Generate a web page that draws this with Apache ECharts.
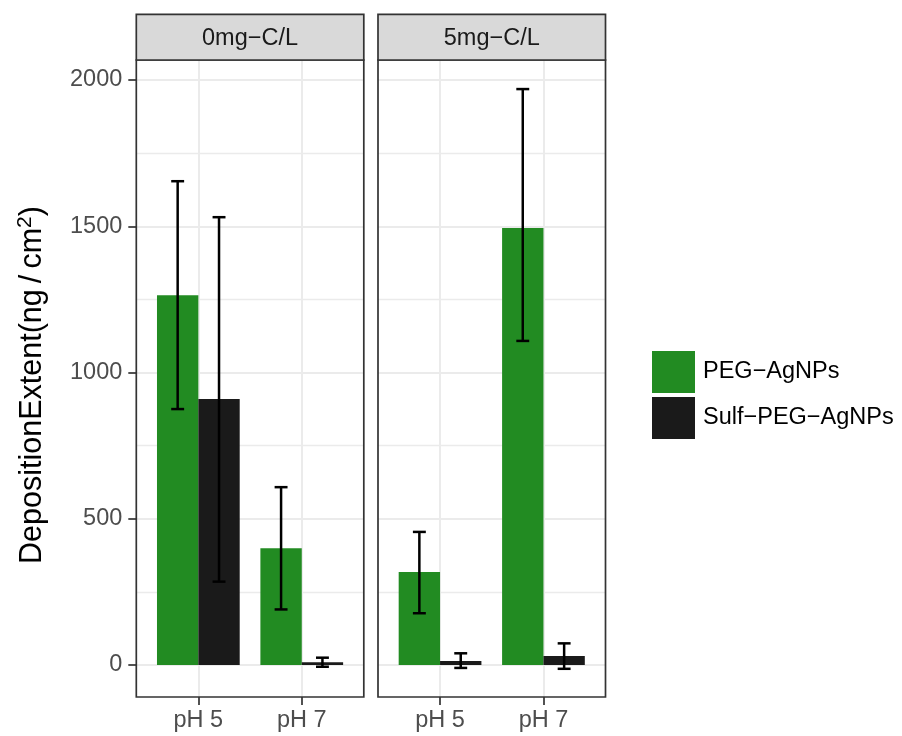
<!DOCTYPE html>
<html>
<head>
<meta charset="utf-8">
<script src="https://cdn.jsdelivr.net/npm/echarts@6/dist/echarts.min.js"></script>
<style>html,body{margin:0;padding:0;background:#fff}#c{width:902px;height:736px}</style>
</head>
<body>
<div id="c"></div>
<script>
// ---- data ----
const categories = ['pH 5', 'pH 7'];
const panels = ['0mg\u2212C/L', '5mg\u2212C/L'];
const seriesNames = ['PEG\u2212AgNPs', 'Sulf\u2212PEG\u2212AgNPs'];
const pegMean = [[1264, 399], [318, 1494]];
const pegLow  = [[875, 190], [177, 1108]];
const pegHigh = [[1654, 608], [455, 1969]];
const sulfMean = [[909, 9], [14, 31]];
const sulfLow  = [[285, -6], [-10, -13]];
const sulfHigh = [[1531, 25], [40, 74]];
const yTicks = [0, 500, 1000, 1500, 2000];

// ---- layout / style ----
const FONT = "'Liberation Sans', Arial, Helvetica, sans-serif";
const colors = ['#228B22', '#1A1A1A'];
const gridDefs = [
  {left: 136.3, top: 60, width: 227.5, height: 637},
  {left: 378, top: 60, width: 227.5, height: 637}
];
const stripTop = 14.3, stripH = 45.7;
const border = '#333333', bw = 1.7;
const yMin = -109.4, yMax = 2068.4;

const chart = echarts.init(document.getElementById('c'), null, {renderer: 'canvas'});

function barRender(offset) {
  return function (params, api) {
    const x = api.value(0) + offset, v = api.value(1);
    const a = api.coord([x - 0.2, 0]);
    const b = api.coord([x + 0.2, v]);
    return {
      type: 'rect',
      shape: {x: a[0], y: Math.min(a[1], b[1]), width: b[0] - a[0], height: Math.abs(a[1] - b[1])},
      style: {fill: api.visual('color')}
    };
  };
}
function errRender(offset) {
  return function (params, api) {
    const x = api.value(0) + offset, lo = api.value(1), hi = api.value(2);
    const t = api.coord([x, hi]), b = api.coord([x, lo]);
    const tl = api.coord([x - 0.0625, hi]), tr = api.coord([x + 0.0625, hi]);
    const bl = api.coord([x - 0.0625, lo]), br = api.coord([x + 0.0625, lo]);
    const st = {stroke: '#000', lineWidth: 2.5};
    return {type: 'group', children: [
      {type: 'line', shape: {x1: t[0], y1: t[1], x2: b[0], y2: b[1]}, style: st},
      {type: 'line', shape: {x1: tl[0], y1: tl[1], x2: tr[0], y2: tr[1]}, style: st},
      {type: 'line', shape: {x1: bl[0], y1: bl[1], x2: br[0], y2: br[1]}, style: st}
    ]};
  };
}

const xAxes = gridDefs.map((g, i) => ({
  type: 'value', gridIndex: i, min: 0.4, max: 2.6, position: 'bottom',
  axisLine: {show: false, onZero: false},
  axisTick: {show: true, customValues: categories.map((c, k) => k + 1), length: 8, lineStyle: {color: border, width: bw}},
  axisLabel: {customValues: categories.map((c, k) => k + 1), formatter: v => categories[Math.round(v) - 1],
    color: '#4D4D4D', fontSize: 23.5, fontFamily: FONT, margin: 12},
  splitLine: {show: true, lineStyle: {color: '#EBEBEB', width: 2}}
}));
const yAxes = gridDefs.map((g, i) => ({
  type: 'value', gridIndex: i, min: yMin, max: yMax, splitNumber: 5, position: 'left',
  axisLine: {show: false, onZero: false},
  axisTick: {show: i === 0, customValues: yTicks, length: 8, lineStyle: {color: border, width: bw}},
  axisLabel: {show: i === 0, customValues: yTicks, formatter: v => String(v),
    color: '#4D4D4D', fontSize: 23.5, fontFamily: FONT, margin: 14},
  splitLine: {show: true, lineStyle: {color: '#EBEBEB', width: 2}},
  minorTick: {show: false, splitNumber: 2},
  minorSplitLine: {show: true, lineStyle: {color: '#EBEBEB', width: 1.3}}
}));

const series = [];
panels.forEach((p, i) => {
  series.push({
    name: seriesNames[0], type: 'custom', xAxisIndex: i, yAxisIndex: i, z: 3,
    itemStyle: {color: colors[0]}, renderItem: barRender(-0.2), encode: {x: 0, y: 1},
    data: categories.map((c, k) => [k + 1, pegMean[i][k]])
  });
  series.push({
    name: seriesNames[1], type: 'custom', xAxisIndex: i, yAxisIndex: i, z: 3,
    itemStyle: {color: colors[1]}, renderItem: barRender(0.2), encode: {x: 0, y: 1},
    data: categories.map((c, k) => [k + 1, sulfMean[i][k]])
  });
  series.push({
    name: 'errPEG' + i, type: 'custom', xAxisIndex: i, yAxisIndex: i, z: 4,
    renderItem: errRender(-0.2), encode: {x: 0, y: [1, 2]},
    data: categories.map((c, k) => [k + 1, pegLow[i][k], pegHigh[i][k]])
  });
  series.push({
    name: 'errSulf' + i, type: 'custom', xAxisIndex: i, yAxisIndex: i, z: 4,
    renderItem: errRender(0.2), encode: {x: 0, y: [1, 2]},
    data: categories.map((c, k) => [k + 1, sulfLow[i][k], sulfHigh[i][k]])
  });
});

const graphics = [];
gridDefs.forEach((g, i) => {
  graphics.push({type: 'rect', z: 100, shape: {x: g.left, y: g.top, width: g.width, height: g.height},
    style: {fill: 'none', stroke: border, lineWidth: bw}});
  graphics.push({type: 'rect', z: 100, shape: {x: g.left, y: stripTop, width: g.width, height: stripH},
    style: {fill: '#D9D9D9', stroke: border, lineWidth: bw}});
  graphics.push({type: 'text', z: 101, x: g.left + g.width / 2, y: stripTop + stripH / 2 + 1,
    style: {text: panels[i], fill: '#1A1A1A', font: '23.5px ' + FONT, textAlign: 'center', textVerticalAlign: 'middle'}});
});
graphics.push({type: 'text', z: 101, x: 33, y: 385, rotation: Math.PI / 2,
  style: {text: 'DepositionExtent(ng\u2009/\u2009cm{s|2})', fill: '#000', fontSize: 30.5, fontFamily: FONT,
    textAlign: 'center', textVerticalAlign: 'middle', lineHeight: 36,
    rich: {s: {fontSize: 21, fontFamily: FONT, fill: '#000', verticalAlign: 'top', lineHeight: 22}}}});

chart.setOption({
  animation: false,
  backgroundColor: '#fff',
  grid: gridDefs.map(g => Object.assign({containLabel: false, show: false}, g)),
  xAxis: xAxes,
  yAxis: yAxes,
  legend: {
    data: seriesNames.map(n => ({name: n, icon: 'rect'})),
    orient: 'vertical', left: 652, top: 351, padding: 0,
    itemWidth: 43, itemHeight: 42, itemGap: 4,
    textStyle: {fontSize: 23.5, fontFamily: FONT, color: '#000', padding: [0, 0, 0, 3]}
  },
  graphic: graphics,
  series: series
});
</script>
</body>
</html>
